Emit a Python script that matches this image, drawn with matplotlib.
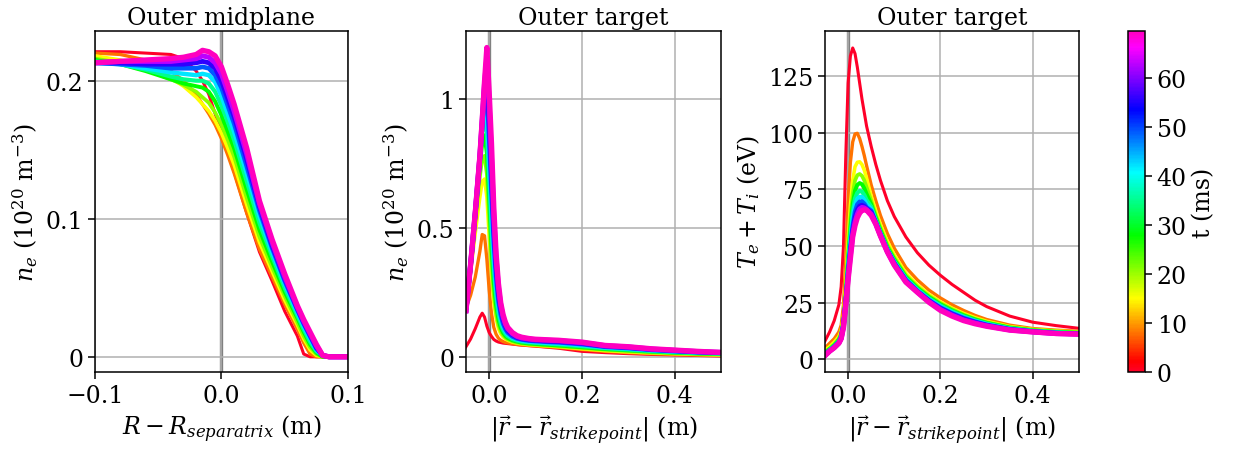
import matplotlib
matplotlib.use("Agg")
import matplotlib.pyplot as plt
import matplotlib.ticker as ticker

plt.rcParams['font.family'] = ['DejaVu Serif']
plt.rcParams['mathtext.fontset'] = 'dejavuserif'
plt.rcParams['font.size'] = 17

# time of each saved profile (ms)
times = [0, 8, 15, 21, 28, 35, 42, 49, 56, 63, 69.6]
t_max = 69.6

# outer midplane density, 1e20 m^-3
x_mid = [-0.1, -0.08, -0.06, -0.04, -0.03, -0.02, -0.015, -0.01, -0.005, 0.0,
         0.005, 0.01, 0.02, 0.03, 0.04, 0.05, 0.06, 0.065, 0.07, 0.075, 0.08, 0.085, 0.1]
ne_mid = [
    [.221, .221, .220, .219, .216, .207, .200, .190, .176, .162, .148, .134, .104, .076, .055, .033, .015, .002, 0, 0, 0, 0, 0],
    [.220, .219, .215, .207, .200, .190, .183, .176, .168, .158, .146, .133, .104, .078, .058, .038, .020, .010, .002, 0, 0, 0, 0],
    [.218, .215, .210, .202, .196, .188, .183, .178, .171, .162, .151, .139, .110, .083, .062, .041, .023, .013, .005, .001, 0, 0, 0],
    [.216, .213, .208, .201, .197, .192, .188, .184, .177, .168, .157, .145, .115, .087, .065, .044, .025, .015, .007, .002, 0, 0, 0],
    [.215, .212, .207, .201, .198, .196, .195, .192, .185, .175, .163, .151, .121, .092, .069, .047, .028, .018, .009, .003, 0, 0, 0],
    [.214, .212, .208, .203, .201, .200, .200, .198, .192, .182, .170, .157, .127, .097, .073, .050, .030, .020, .011, .004, .001, 0, 0],
    [.213, .212, .209, .206, .205, .204, .205, .204, .199, .189, .176, .163, .133, .102, .076, .053, .032, .022, .013, .005, .001, 0, 0],
    [.213, .212, .211, .209, .209, .209, .210, .209, .204, .195, .182, .169, .138, .106, .079, .055, .034, .024, .015, .006, .001, 0, 0],
    [.213, .213, .212, .212, .212, .213, .214, .213, .209, .200, .187, .174, .143, .109, .081, .057, .035, .025, .016, .007, .001, 0, 0],
    [.213, .214, .214, .214, .215, .216, .218, .217, .213, .205, .192, .178, .147, .111, .083, .058, .036, .026, .017, .008, .001, 0, 0],
    [.213, .214, .215, .216, .217, .219, .222, .221, .218, .210, .197, .183, .151, .113, .085, .060, .037, .027, .018, .009, .001, 0, 0],
]

# outer target profiles vs distance from strike point
x_tgt = [-0.05, -0.04, -0.03, -0.02, -0.015, -0.01, -0.005, 0.0, 0.005, 0.01,
         0.015, 0.02, 0.025, 0.03, 0.035, 0.04, 0.05, 0.06, 0.07, 0.085,
         0.1, 0.125, 0.15, 0.2, 0.25, 0.3, 0.35, 0.4, 0.45, 0.5]
ne_tgt = [
    [0.04, 0.07, 0.11, 0.155, 0.17, 0.155, 0.12, 0.095, 0.08, 0.068, 0.062, 0.058, 0.056, 0.054, 0.053, 0.052, 0.05, 0.048, 0.046, 0.044, 0.042, 0.038, 0.034, 0.022, 0.017, 0.013, 0.01, 0.008, 0.006, 0.004],
    [0.19, 0.24, 0.31, 0.41, 0.475, 0.47, 0.38, 0.26, 0.17, 0.115, 0.088, 0.073, 0.065, 0.06, 0.057, 0.055, 0.052, 0.049, 0.047, 0.045, 0.043, 0.04, 0.037, 0.029, 0.022, 0.017, 0.013, 0.01, 0.008, 0.006],
    [0.18, 0.33, 0.48, 0.62, 0.68, 0.69, 0.62, 0.47, 0.32, 0.21, 0.15, 0.11, 0.09, 0.078, 0.07, 0.065, 0.058, 0.054, 0.051, 0.048, 0.046, 0.043, 0.04, 0.032, 0.025, 0.02, 0.016, 0.013, 0.01, 0.008],
    [0.18, 0.34, 0.52, 0.70, 0.77, 0.78, 0.71, 0.54, 0.37, 0.245, 0.17, 0.125, 0.1, 0.085, 0.075, 0.069, 0.061, 0.056, 0.053, 0.05, 0.048, 0.045, 0.042, 0.035, 0.028, 0.023, 0.018, 0.015, 0.012, 0.01],
    [0.18, 0.35, 0.54, 0.74, 0.83, 0.86, 0.79, 0.62, 0.43, 0.29, 0.2, 0.145, 0.113, 0.094, 0.082, 0.074, 0.065, 0.06, 0.056, 0.053, 0.051, 0.048, 0.045, 0.038, 0.031, 0.026, 0.021, 0.017, 0.014, 0.012],
    [0.18, 0.35, 0.55, 0.76, 0.87, 0.93, 0.87, 0.69, 0.49, 0.34, 0.235, 0.17, 0.13, 0.106, 0.091, 0.081, 0.07, 0.064, 0.06, 0.057, 0.055, 0.052, 0.049, 0.042, 0.034, 0.029, 0.023, 0.019, 0.016, 0.013],
    [0.18, 0.36, 0.55, 0.77, 0.89, 0.98, 0.94, 0.77, 0.56, 0.39, 0.27, 0.195, 0.148, 0.118, 0.1, 0.088, 0.075, 0.068, 0.064, 0.06, 0.058, 0.055, 0.053, 0.046, 0.037, 0.032, 0.026, 0.021, 0.018, 0.015],
    [0.18, 0.36, 0.56, 0.77, 0.90, 1.02, 1.03, 0.85, 0.64, 0.45, 0.31, 0.22, 0.165, 0.13, 0.109, 0.095, 0.08, 0.072, 0.068, 0.064, 0.062, 0.059, 0.057, 0.05, 0.04, 0.035, 0.028, 0.023, 0.019, 0.016],
    [0.18, 0.36, 0.56, 0.78, 0.91, 1.05, 1.10, 0.92, 0.71, 0.50, 0.35, 0.25, 0.185, 0.145, 0.12, 0.103, 0.086, 0.076, 0.071, 0.067, 0.065, 0.062, 0.06, 0.053, 0.042, 0.037, 0.03, 0.025, 0.02, 0.017],
    [0.18, 0.36, 0.56, 0.78, 0.92, 1.06, 1.16, 0.98, 0.77, 0.54, 0.38, 0.27, 0.2, 0.156, 0.128, 0.11, 0.091, 0.08, 0.074, 0.07, 0.067, 0.065, 0.063, 0.056, 0.044, 0.039, 0.031, 0.026, 0.021, 0.018],
    [0.18, 0.36, 0.56, 0.78, 0.92, 1.07, 1.20, 1.03, 0.83, 0.58, 0.40, 0.285, 0.21, 0.165, 0.135, 0.115, 0.095, 0.083, 0.077, 0.072, 0.069, 0.067, 0.065, 0.058, 0.045, 0.04, 0.032, 0.027, 0.022, 0.018],
]

# Te + Ti at the outer target, eV (finer grid in the tail)
x_temp = [-0.05, -0.04, -0.03, -0.02, -0.015, -0.01, -0.005, 0.0, 0.005, 0.01,
          0.015, 0.02, 0.025, 0.03, 0.035, 0.04, 0.05, 0.06, 0.07, 0.085,
          0.1, 0.125, 0.15, 0.175, 0.2, 0.225, 0.25, 0.275, 0.3, 0.35, 0.4, 0.45, 0.5]
temp_tgt = [
    [8, 12, 17, 24, 32, 50, 90, 122, 134, 137.5, 135, 129, 122, 115, 109, 103, 94, 86, 79, 70, 63, 54, 47, 41.5, 37, 33, 29.5, 26, 23.2, 19, 16.3, 14.8, 13.6],
    [5, 7, 9, 12, 15, 24, 45, 70, 87, 96, 99.5, 99.8, 97.5, 94, 90, 85.5, 77, 70, 63.5, 55.5, 49, 40.5, 35, 30.5, 27, 24, 21.5, 19.3, 17.5, 15, 13.5, 12.8, 12.3],
    [4, 5.5, 7.5, 10, 12.5, 19, 33, 52, 68, 79, 85, 87, 87.2, 86, 83.5, 80, 72, 65.5, 59.5, 52, 46, 38, 32.8, 28.6, 25.3, 22.5, 20.2, 18.3, 16.7, 14.4, 13.1, 12.4, 12.0],
    [3.3, 4.8, 6.6, 9, 11.5, 17.5, 30, 47, 62, 73, 79, 81.3, 81.8, 81, 79, 76, 70, 63.5, 58, 50.5, 44.8, 37, 32, 27.9, 24.7, 22, 19.7, 17.8, 16.3, 14.1, 12.9, 12.2, 11.8],
    [2.8, 4.4, 6.1, 8.5, 10.7, 16.5, 28, 43.5, 57.5, 68.5, 74.5, 77, 77.8, 77.3, 75.5, 73, 68.5, 62.5, 57, 49.5, 44, 36.4, 31.4, 27.4, 24.2, 21.5, 19.3, 17.5, 16.0, 13.9, 12.7, 12.0, 11.6],
    [2.4, 4.1, 5.8, 8, 10.2, 16, 27, 41.5, 54.5, 65, 71, 73.5, 74.3, 74, 72.5, 70.3, 67.3, 61.5, 56, 48.8, 43.3, 35.8, 30.9, 26.9, 23.7, 21.1, 18.9, 17.1, 15.7, 13.6, 12.5, 11.8, 11.4],
    [2.1, 3.9, 5.5, 7.7, 9.8, 15.5, 26, 39.5, 51.5, 62, 68, 70.8, 71.7, 71.6, 70.3, 68.4, 66.3, 60.8, 55.5, 48.3, 42.8, 35.3, 30.4, 26.4, 23.2, 20.6, 18.5, 16.8, 15.4, 13.4, 12.3, 11.6, 11.3],
    [1.9, 3.7, 5.3, 7.4, 9.5, 15, 25.3, 38, 49, 58.5, 65, 68.3, 69.5, 69.6, 68.6, 67, 65.5, 60.3, 55.1, 48, 42.4, 34.9, 30, 26, 22.7, 20.2, 18.1, 16.5, 15.1, 13.2, 12.2, 11.5, 11.2],
    [1.7, 3.6, 5.2, 7.2, 9.3, 14.7, 24.8, 37, 47.5, 56.5, 62.5, 66, 67.6, 68, 67.5, 66.4, 64.8, 60, 54.8, 47.7, 42.1, 34.6, 29.8, 25.7, 22.3, 19.8, 17.7, 16.2, 14.9, 13.0, 12.1, 11.4, 11.1],
    [1.6, 3.5, 5.1, 7.1, 9.1, 14.3, 24.3, 36, 46, 55, 60.5, 64, 66.3, 67, 66.8, 66, 64.1, 59.8, 54.6, 47.5, 41.8, 34.3, 29.6, 25.4, 21.9, 19.4, 17.3, 15.9, 14.7, 12.9, 12.0, 11.3, 11.05],
    [1.5, 3.5, 5, 7, 9, 14, 24, 35, 44.5, 54, 59, 62.5, 64.5, 65.7, 66, 65.8, 63.5, 59.6, 54.4, 47.3, 41.5, 34, 29.5, 25.1, 21.5, 19.0, 17, 15.6, 14.5, 12.8, 12.0, 11.3, 11.0],
]

cmap = plt.get_cmap('gist_rainbow')
norm = matplotlib.colors.Normalize(vmin=0, vmax=t_max)

fig = plt.figure(figsize=(12.38, 4.52), dpi=100)
ax1 = fig.add_axes([0.0767, 0.1748, 0.2044, 0.7544])
ax2 = fig.add_axes([0.3764, 0.1748, 0.2060, 0.7544])
ax3 = fig.add_axes([0.6664, 0.1748, 0.2052, 0.7544])
cax = fig.add_axes([0.9111, 0.1748, 0.0137, 0.7544])

panels = [
    (ax1, x_mid, ne_mid, 'Outer midplane', r'$R - R_{separatrix}$ (m)', r'$n_e$ (10$^{20}$ m$^{-3}$)'),
    (ax2, x_tgt, ne_tgt, 'Outer target', r'$|\vec{r} - \vec{r}_{strikepoint}|$ (m)', r'$n_e$ (10$^{20}$ m$^{-3}$)'),
    (ax3, x_temp, temp_tgt, 'Outer target', r'$|\vec{r} - \vec{r}_{strikepoint}|$ (m)', r'$T_e + T_i$ (eV)'),
]

for ax, x, profiles, title, xlabel, ylabel in panels:
    ax.grid(True, color='#b0b0b0', linewidth=1.1, zorder=0)
    ax.axvline(0, color='gray', linewidth=2.4, zorder=1)
    for t, y in zip(times, profiles):
        ax.plot(x, y, color=cmap(norm(t)), linewidth=2.2 + 1.6 * t / t_max, zorder=2)
    ax.set_title(title, fontsize=17, pad=5)
    ax.set_xlabel(xlabel)
    ax.set_ylabel(ylabel)
    ax.yaxis.set_major_formatter(ticker.FormatStrFormatter('%g'))
    ax.tick_params(length=5, width=1.1)
    for s in ax.spines.values():
        s.set_linewidth(1.1)

ax1.set_xlim(-0.1, 0.1)
ax1.set_ylim(-0.011, 0.236)
ax1.set_xticks([-0.1, 0.0, 0.1])
ax1.set_yticks([0, 0.1, 0.2])

ax2.set_xlim(-0.05, 0.5)
ax2.set_ylim(-0.058, 1.264)
ax2.set_xticks([0.0, 0.2, 0.4])
ax2.set_yticks([0, 0.5, 1])

ax3.set_xlim(-0.05, 0.5)
ax3.set_ylim(-5.7, 145)
ax3.set_xticks([0.0, 0.2, 0.4])
ax3.set_yticks([0, 25, 50, 75, 100, 125])

sm = matplotlib.cm.ScalarMappable(norm=norm, cmap=cmap)
cb = fig.colorbar(sm, cax=cax)
cb.set_ticks([0, 10, 20, 30, 40, 50, 60])
cb.set_label('t (ms)')
cb.ax.tick_params(length=5, width=1.1)
cb.outline.set_linewidth(1.1)

plt.savefig('out.png', dpi=100)
plt.close()
